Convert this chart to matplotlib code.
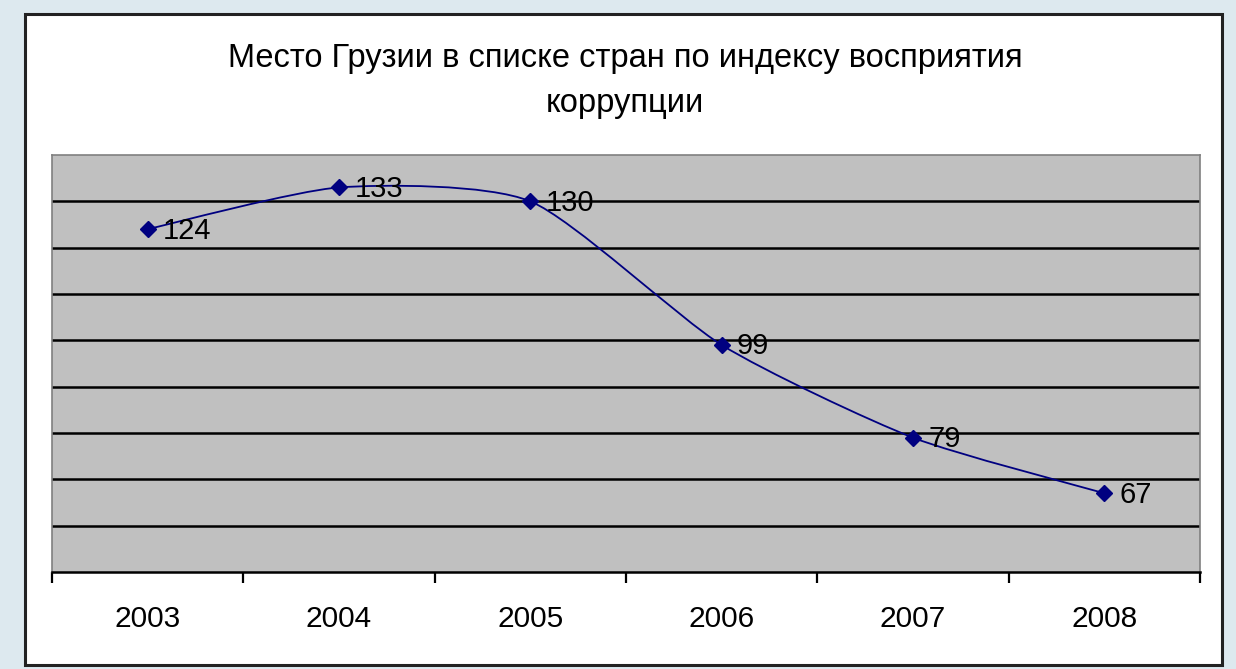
import matplotlib.pyplot as plt
from matplotlib.patches import Rectangle, PathPatch
from matplotlib.path import Path

plt.rcParams['font.family'] = ['Liberation Sans', 'DejaVu Sans']

# ===== данные =====
years = ['2003', '2004', '2005', '2006', '2007', '2008']
ranks = [124, 133, 130, 99, 79, 67]
title = 'Место Грузии в списке стран по индексу восприятия\nкоррупции'

navy = '#000080'

fig = plt.figure(figsize=(12.36, 6.69), dpi=100)
fig.patch.set_facecolor('#dde9ef')

# белая область диаграммы с рамкой
fig.patches.append(Rectangle((25 / 1236, 4 / 669), 1197 / 1236, 651 / 669,
                             transform=fig.transFigure, facecolor='white',
                             edgecolor='#222222', linewidth=2.2, zorder=-1))

ax = fig.add_axes([52 / 1236, 97 / 669, 1148 / 1236, 417 / 669])
ax.set_facecolor('#c0c0c0')

x = list(range(len(years)))

# сглаженная линия (Безье, как в Excel)
k = 1 / 9
verts = [(x[0], ranks[0])]
codes = [Path.MOVETO]
n = len(x)
for i in range(n - 1):
    p0 = (x[max(i - 1, 0)], ranks[max(i - 1, 0)])
    p1 = (x[i], ranks[i])
    p2 = (x[i + 1], ranks[i + 1])
    p3 = (x[min(i + 2, n - 1)], ranks[min(i + 2, n - 1)])
    c1 = (p1[0] + (p2[0] - p0[0]) * k, p1[1] + (p2[1] - p0[1]) * k)
    c2 = (p2[0] - (p3[0] - p1[0]) * k, p2[1] - (p3[1] - p1[1]) * k)
    verts += [c1, c2, p2]
    codes += [Path.CURVE4] * 3
ax.add_patch(PathPatch(Path(verts, codes), facecolor='none', edgecolor=navy,
                       linewidth=1.3, zorder=3))
ax.plot(x, ranks, linestyle='none', marker='D', markersize=8, color=navy, zorder=4)

for xi, v in zip(x, ranks):
    ax.annotate(str(v), (xi, v), xytext=(11, -1), textcoords='offset points',
                ha='left', va='center', fontsize=21, color='black', zorder=5)

ax.set_xlim(-0.5, 5.5)
ax.set_ylim(50, 140)
ax.set_yticks(range(60, 140, 10))
ax.yaxis.grid(True, color='black', linewidth=1.8)
ax.set_axisbelow(True)
ax.tick_params(axis='y', left=False, labelleft=False)

ax.set_xticks(x)
ax.set_xticklabels(years, fontsize=21.5)
ax.set_xticks([i - 0.5 for i in range(len(years) + 1)], minor=True)
ax.tick_params(axis='x', which='major', length=0, pad=24)
ax.tick_params(axis='x', which='minor', length=8, width=1.6, color='black', direction='out')

for s in ['left', 'top', 'right']:
    ax.spines[s].set_color('#808080')
    ax.spines[s].set_linewidth(1.2)
ax.spines['bottom'].set_color('black')
ax.spines['bottom'].set_linewidth(1.8)

fig.text(625 / 1236, 1 - 81 / 669, title, ha='center', va='center',
         fontsize=23.5, linespacing=1.55)

fig.savefig('out.png', dpi=100, facecolor=fig.get_facecolor())
